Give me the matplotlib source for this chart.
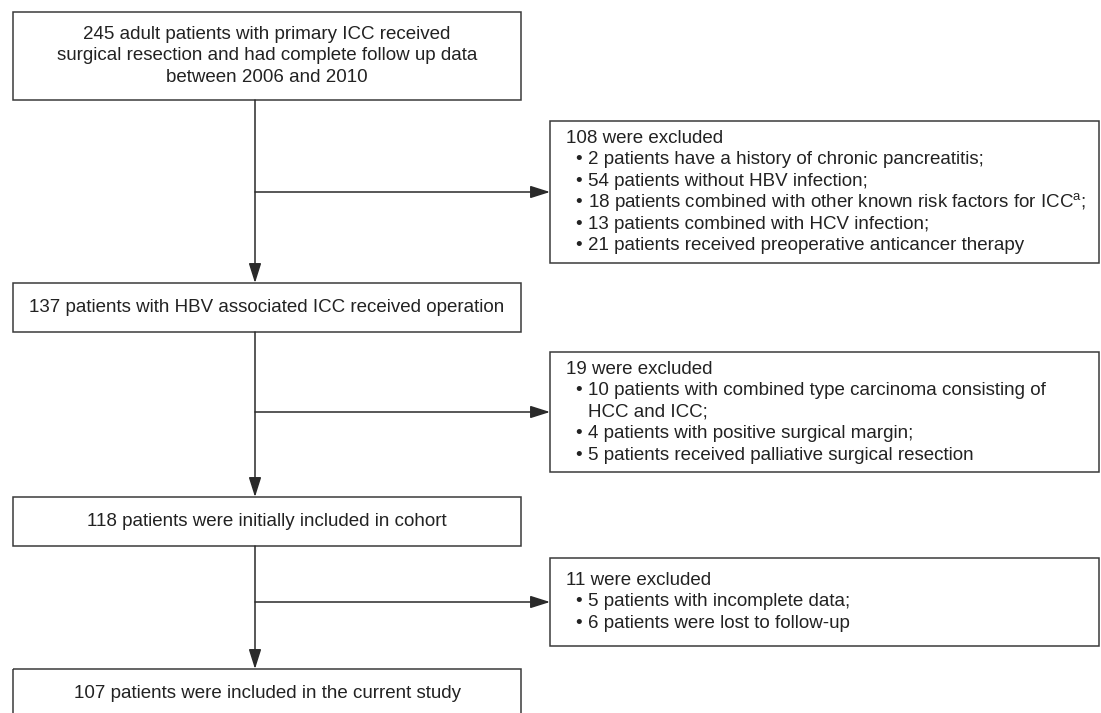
import matplotlib.pyplot as plt
from matplotlib.patches import Rectangle

plt.rcParams['font.family'] = ['Liberation Sans', 'DejaVu Sans']
plt.rcParams['mathtext.fontset'] = 'custom'
plt.rcParams['mathtext.rm'] = 'Liberation Sans'

# flowchart content
main_texts = [
    "245 adult patients with primary ICC received\nsurgical resection and had complete follow up data\nbetween 2006 and 2010",
    "137 patients with HBV associated ICC received operation",
    "118 patients were initially included in cohort",
    "107 patients were included in the current study",
]
excl_counts = [108, 19, 11]
excl_items = [
    ["2 patients have a history of chronic pancreatitis;",
     "54 patients without HBV infection;",
     r"18 patients combined with other known risk factors for ICC$^{\rm a}$;",
     "13 patients combined with HCV infection;",
     "21 patients received preoperative anticancer therapy"],
    ["10 patients with combined type carcinoma consisting of\nHCC and ICC;",
     "4 patients with positive surgical margin;",
     "5 patients received palliative surgical resection"],
    ["5 patients with incomplete data;",
     "6 patients were lost to follow-up"],
]

# layout (pixels)
W, H = 1101, 713
main_x = (13, 521)
main_y = [(12, 100), (283, 332), (497, 546), (669, 718)]
excl_x = (550, 1099)
excl_y = [(121, 263), (352, 472), (558, 646)]
stem_x = 255
line_step = 21.5
fs = 13.5
edge = '#3a3a3a'
txt = '#222222'

fig = plt.figure(figsize=(W / 100, H / 100), dpi=100)
ax = fig.add_axes([0, 0, 1, 1])
ax.set_xlim(0, W)
ax.set_ylim(H, 0)
ax.axis('off')


def box(x0, x1, y0, y1):
    ax.add_patch(Rectangle((x0, y0), x1 - x0, y1 - y0, fill=False,
                           edgecolor=edge, linewidth=1.1))


def arrow(x0, y0, x1, y1):
    ax.annotate('', xy=(x1, y1), xytext=(x0, y0),
                arrowprops=dict(arrowstyle='-|>,head_length=1.2,head_width=0.38',
                                color='#2a2a2a', lw=1.1, shrinkA=0, shrinkB=0,
                                mutation_scale=10))


for text, (y0, y1) in zip(main_texts, main_y):
    box(main_x[0], main_x[1], y0, y1)
    lines = text.split('\n')
    yc = (y0 + y1) / 2
    for i, ln in enumerate(lines):
        y = yc + (i - (len(lines) - 1) / 2) * line_step
        ax.text((main_x[0] + main_x[1]) / 2, y, ln, ha='center', va='center',
                fontsize=fs, color=txt)

for n, items, (y0, y1) in zip(excl_counts, excl_items, excl_y):
    box(excl_x[0], excl_x[1], y0, y1)
    rows = [(f"{n} were excluded", None)]
    for it in items:
        parts = it.split('\n')
        rows.append((parts[0], '•'))
        for p in parts[1:]:
            rows.append((p, ''))
    yc = (y0 + y1) / 2
    for i, (ln, bullet) in enumerate(rows):
        y = yc + (i - (len(rows) - 1) / 2) * line_step
        if bullet is None:
            ax.text(566, y, ln, ha='left', va='center', fontsize=fs, color=txt)
        else:
            if bullet:
                ax.text(575, y, bullet, ha='left', va='center', fontsize=fs, color=txt)
            ax.text(588, y, ln, ha='left', va='center', fontsize=fs, color=txt)

# connectors
for k in range(3):
    top = main_y[k][1]
    bot = main_y[k + 1][0]
    arrow(stem_x, top, stem_x, bot)
    yb = (excl_y[k][0] + excl_y[k][1]) / 2
    arrow(stem_x, yb, excl_x[0], yb)

fig.savefig('out.png', dpi=100)
